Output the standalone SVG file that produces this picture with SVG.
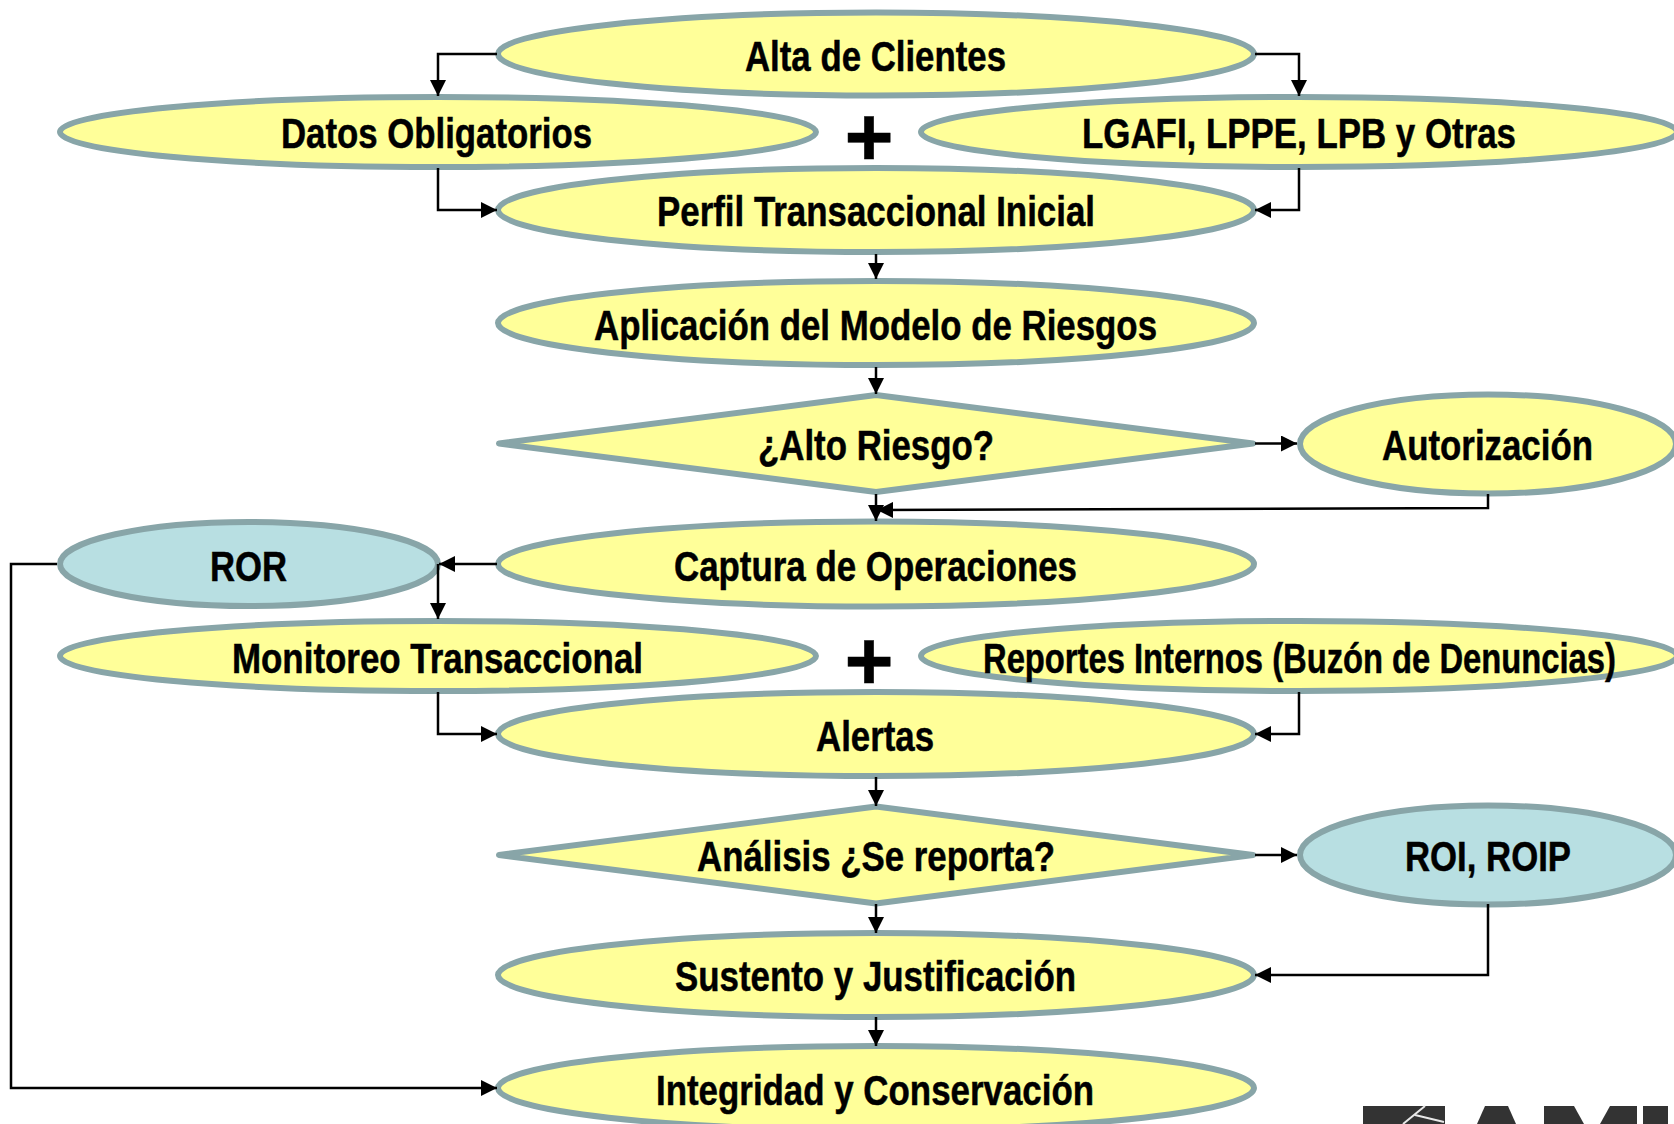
<svg xmlns="http://www.w3.org/2000/svg" width="1674" height="1124" viewBox="0 0 1674 1124">
<style>
.n{fill:#FFFF99;stroke:#88A5A8;stroke-width:6;stroke-linejoin:round}
.b{fill:#B8DFE2}
text{font-family:"Liberation Sans",Arial,sans-serif;font-weight:700;font-size:42px;fill:#000;stroke:#000;stroke-width:.5;text-anchor:start}
.p{font-size:84px;text-anchor:middle}
.c path{fill:none;stroke:#000;stroke-width:2.500;marker-end:url(#a)}
</style>
<defs><marker id="a" markerUnits="userSpaceOnUse" markerWidth="16" markerHeight="16" refX="16" refY="8" orient="auto"><path d="M0 0L16 8L0 16Z" fill="#000"/></marker></defs>
<rect width="1674" height="1124" fill="#fff"/>
<g id="n-alta"><ellipse class="n" cx="876" cy="54" rx="378" ry="41.500"/><text x="745" y="71" textLength="261" lengthAdjust="spacingAndGlyphs">Alta de Clientes</text></g>
<g id="n-datos"><ellipse class="n" cx="438" cy="132" rx="378" ry="35"/><text x="281" y="148" textLength="311" lengthAdjust="spacingAndGlyphs">Datos Obligatorios</text></g>
<g id="n-lgafi"><ellipse class="n" cx="1299" cy="132" rx="378" ry="35"/><text x="1082" y="148" textLength="434" lengthAdjust="spacingAndGlyphs">LGAFI, LPPE, LPB y Otras</text></g>
<g id="plus-1"><text class="p" x="869" y="166">+</text></g>
<g id="n-perfil"><ellipse class="n" cx="876" cy="210" rx="378" ry="42"/><text x="657" y="226" textLength="438" lengthAdjust="spacingAndGlyphs">Perfil Transaccional Inicial</text></g>
<g id="n-aplicacion"><ellipse class="n" cx="876" cy="323" rx="378" ry="42"/><text x="594" y="340" textLength="563" lengthAdjust="spacingAndGlyphs">Aplicación del Modelo de Riesgos</text></g>
<g id="n-riesgo"><polygon class="n" points="876,395 1253,443.500 876,492 499,443.500"/><text x="758" y="460" textLength="236" lengthAdjust="spacingAndGlyphs">¿Alto Riesgo?</text></g>
<g id="n-autorizacion"><ellipse class="n" cx="1488" cy="444" rx="188" ry="49.500"/><text x="1382" y="460" textLength="211" lengthAdjust="spacingAndGlyphs">Autorización</text></g>
<g id="n-captura"><ellipse class="n" cx="876" cy="564" rx="378" ry="42.500"/><text x="674" y="581" textLength="403" lengthAdjust="spacingAndGlyphs">Captura de Operaciones</text></g>
<g id="n-ror"><ellipse class="n b" cx="249" cy="564" rx="189" ry="42"/><text x="210" y="581" textLength="77" lengthAdjust="spacingAndGlyphs">ROR</text></g>
<g id="n-monitoreo"><ellipse class="n" cx="438" cy="656" rx="378" ry="35"/><text x="232" y="673" textLength="411" lengthAdjust="spacingAndGlyphs">Monitoreo Transaccional</text></g>
<g id="n-reportes"><ellipse class="n" cx="1299" cy="656" rx="378" ry="35"/><text transform="translate(983 673) scale(.8 1)" textLength="791" lengthAdjust="spacingAndGlyphs">Reportes Internos (Buzón de Denuncias)</text></g>
<g id="plus-2"><text class="p" x="869" y="690">+</text></g>
<g id="n-alertas"><ellipse class="n" cx="876" cy="734" rx="378" ry="42"/><text x="816" y="751" textLength="118" lengthAdjust="spacingAndGlyphs">Alertas</text></g>
<g id="n-analisis"><polygon class="n" points="876,806.500 1253,855 876,903.500 499,855"/><text x="697" y="871" textLength="358" lengthAdjust="spacingAndGlyphs">Análisis ¿Se reporta?</text></g>
<g id="n-roi"><ellipse class="n b" cx="1488" cy="855" rx="188" ry="49.500"/><text x="1405" y="871" textLength="166" lengthAdjust="spacingAndGlyphs">ROI, ROIP</text></g>
<g id="n-sustento"><ellipse class="n" cx="876" cy="975" rx="378" ry="42"/><text x="675" y="991" textLength="401" lengthAdjust="spacingAndGlyphs">Sustento y Justificación</text></g>
<g id="n-integridad"><ellipse class="n" cx="876" cy="1088" rx="378" ry="42"/><text x="656" y="1105" textLength="438" lengthAdjust="spacingAndGlyphs">Integridad y Conservación</text></g>
<g id="connectors" class="c">
<path d="M497 54H438V96"/><path d="M1255 54H1299V96"/>
<path d="M438 168V210H497"/><path d="M1299 168V210H1255"/>
<path d="M876 254V279"/><path d="M876 367V394"/><path d="M1255 443.500H1297"/>
<path d="M876 494V521"/><path d="M1488 494V508L877 510"/>
<path d="M497 564H439"/><path d="M438 564V619"/>
<path d="M57 564H11V1088H497"/>
<path d="M438 692V734H497"/><path d="M1299 692V734H1255"/>
<path d="M876 777V806"/><path d="M1255 855H1297"/><path d="M876 904V933"/>
<path d="M1488 904V975H1255"/><path d="M876 1017V1046"/>
</g>
<g id="logo-fragment" fill="#333">
<rect x="1363" y="1106" width="82" height="18"/>
<path d="M1425 1106L1403 1124M1415 1115L1444 1122" fill="none" stroke="#e8e8e8" stroke-width="2"/>
<polygon points="1485,1106 1508,1106 1516,1124 1477,1124"/>
<polygon points="1544,1106 1574,1106 1584,1124 1544,1124"/>
<polygon points="1610,1106 1637,1106 1637,1124 1600,1124"/>
<rect x="1643" y="1106" width="25" height="18"/>
</g>
</svg>
